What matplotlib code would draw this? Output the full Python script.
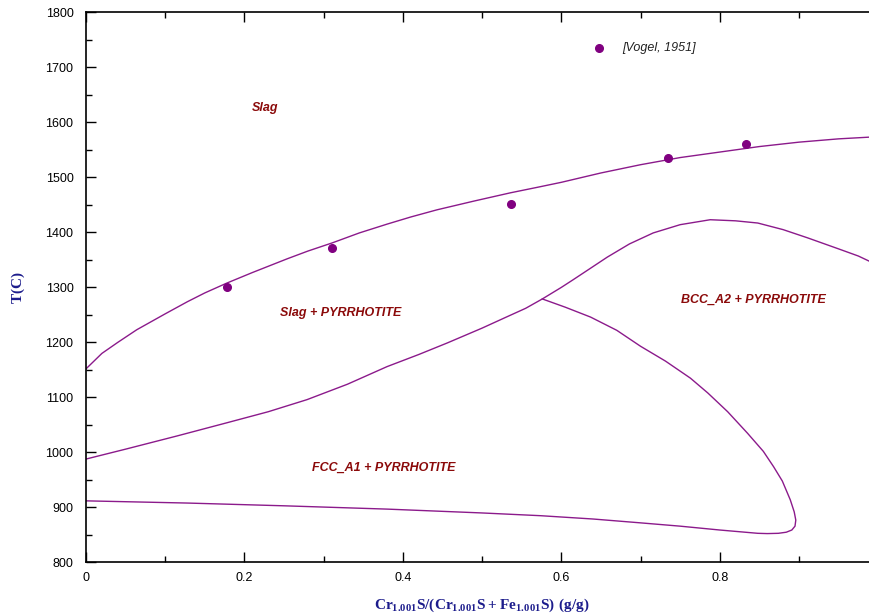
import numpy as np
import matplotlib.pyplot as plt
from matplotlib.ticker import MultipleLocator, FuncFormatter

# liquidus: Slag / Slag + PYRRHOTITE
liq_x = [0.0, 0.02, 0.04, 0.064, 0.10, 0.128, 0.15, 0.178, 0.21, 0.254,
         0.28, 0.311, 0.345, 0.38, 0.41, 0.443, 0.49, 0.536, 0.57, 0.60,
         0.65, 0.70, 0.75, 0.80, 0.85, 0.90, 0.95, 1.0]
liq_t = [1152, 1180, 1200, 1223, 1252, 1274, 1290, 1308, 1327, 1352,
         1366, 1381, 1399, 1415, 1428, 1441, 1457, 1472, 1482, 1491,
         1508, 1523, 1536, 1546, 1556, 1564, 1570, 1574]

# Slag+PYRRHOTITE / FCC_A1 boundary up to the peritectic, then the BCC dome
low_x = [0.0, 0.05, 0.115, 0.178, 0.23, 0.279, 0.33, 0.38, 0.42, 0.456,
         0.50, 0.532, 0.555, 0.576, 0.60, 0.615, 0.636, 0.658, 0.686, 0.716,
         0.75, 0.788, 0.82, 0.848, 0.88, 0.911, 0.95, 0.975, 1.0]
low_t = [988, 1006, 1030, 1054, 1074, 1096, 1124, 1156, 1178, 1199,
         1226, 1247, 1262, 1279, 1300, 1314, 1334, 1355, 1379, 1399,
         1414, 1423, 1421, 1417, 1405, 1390, 1370, 1357, 1340]

# FCC_A1 / BCC_A2 boundary from the peritectic round to the bottom line
fb_x = [0.576, 0.605, 0.637, 0.67, 0.70, 0.7315, 0.763, 0.785, 0.81, 0.835,
        0.855, 0.868, 0.879, 0.889, 0.894, 0.896, 0.895, 0.891, 0.884, 0.874,
        0.86, 0.848, 0.80, 0.75, 0.70, 0.64, 0.574, 0.50, 0.38, 0.25,
        0.128, 0.0]
fb_t = [1279, 1264, 1246, 1222, 1193, 1166, 1135, 1108, 1074, 1035,
        1002, 974, 948, 914, 892, 877, 866, 859, 855, 853,
        852.5, 853, 859, 866, 872, 879, 885, 890, 897, 903,
        908, 912]

# experimental points [Vogel, 1951]
exp_x = [0.178, 0.311, 0.536, 0.735, 0.833]
exp_t = [1301, 1371, 1452, 1535, 1561]

plt.rcParams['font.family'] = ['Liberation Sans', 'DejaVu Sans']
plt.rcParams['mathtext.fontset'] = 'custom'
plt.rcParams['mathtext.bf'] = 'Liberation Serif:bold'
plt.rcParams['mathtext.rm'] = 'Liberation Serif:bold'

line_c = '#8b1a8b'
lab_c = '#8b0a0a'
ax_c = '#1c1c8c'

fig = plt.figure(figsize=(8.7, 6.16), dpi=100)
ax = fig.add_axes([0.0989, 0.0869, 0.9105, 0.8931])

ax.plot(liq_x, liq_t, color=line_c, lw=1)
ax.plot(low_x, low_t, color=line_c, lw=1)
ax.plot(fb_x, fb_t, color=line_c, lw=1)
ax.plot(exp_x, exp_t, 'o', color='#800080', ms=5.5)

# legend entry
ax.plot([0.647], [1735], 'o', color='#800080', ms=5.5)
ax.text(0.677, 1735, '[Vogel, 1951]', fontsize=9, style='italic',
        color='#222222', va='center', ha='left')

lab = dict(fontsize=9, style='italic', weight='bold', color=lab_c,
           ha='center', va='center')
ax.text(0.226, 1626, 'Slag', **lab)
ax.text(0.321, 1254, 'Slag + PYRRHOTITE', **lab)
ax.text(0.376, 972, 'FCC_A1 + PYRRHOTITE', **lab)
ax.text(0.843, 1277, 'BCC_A2 + PYRRHOTITE', **lab)

ax.set_xlim(0, 1.0)
ax.set_ylim(800, 1800)
ax.xaxis.set_major_locator(MultipleLocator(0.2))
ax.xaxis.set_minor_locator(MultipleLocator(0.1))
ax.yaxis.set_major_locator(MultipleLocator(100))
ax.yaxis.set_minor_locator(MultipleLocator(50))
# the 1.0 label falls off the right edge of the picture
ax.xaxis.set_major_formatter(FuncFormatter(
    lambda v, p: '0' if v == 0 else ('' if v > 0.95 else f'{v:.1f}')))

ax.tick_params(which='both', direction='in', top=True, right=False,
               labelsize=9, width=1.0, color='black')
ax.tick_params(which='major', length=7)
ax.tick_params(which='minor', length=4)
ax.tick_params(axis='x', pad=7)
ax.tick_params(axis='y', pad=9)
for s in ax.spines.values():
    s.set_linewidth(1.2)

ax.set_ylabel(r'$\mathbf{T(C)}$', color=ax_c, fontsize=11, va='center')
ax.yaxis.set_label_coords(-0.086, 0.5)
ax.set_xlabel(r'$\mathbf{Cr_{1.001}S/(Cr_{1.001}S+Fe_{1.001}S)\ (g/g)}$',
              color=ax_c, fontsize=11, va='center')
ax.xaxis.set_label_coords(0.5, -0.077)

fig.savefig('out.png', dpi=100)
